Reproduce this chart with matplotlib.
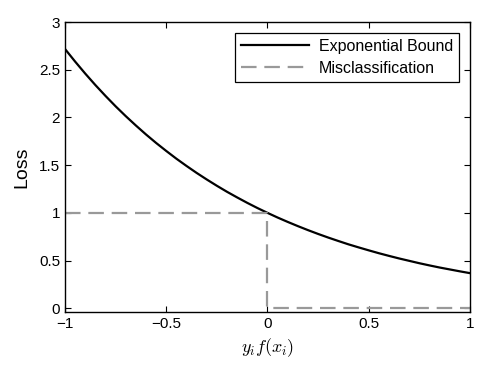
import matplotlib
matplotlib.use("Agg")
import matplotlib.pyplot as plt

plt.rcParams["font.family"] = ["Liberation Sans", "DejaVu Sans"]
plt.rcParams["mathtext.fontset"] = "cm"

# exponential bound
margin = [-1.0, -0.95, -0.9, -0.85, -0.8, -0.75, -0.7, -0.65, -0.6, -0.55,
          -0.5, -0.45, -0.4, -0.35, -0.3, -0.25, -0.2, -0.15, -0.1, -0.05,
          0.0, 0.05, 0.1, 0.15, 0.2, 0.25, 0.3, 0.35, 0.4, 0.45,
          0.5, 0.55, 0.6, 0.65, 0.7, 0.75, 0.8, 0.85, 0.9, 0.95, 1.0]
exp_loss = [2.718, 2.586, 2.460, 2.340, 2.226, 2.117, 2.014, 1.916, 1.822, 1.733,
            1.649, 1.568, 1.492, 1.419, 1.350, 1.284, 1.221, 1.162, 1.105, 1.051,
            1.000, 0.951, 0.905, 0.861, 0.819, 0.779, 0.741, 0.705, 0.670, 0.638,
            0.607, 0.577, 0.549, 0.522, 0.497, 0.472, 0.449, 0.427, 0.407, 0.387,
            0.368]

# misclassification (0/1) loss
mis_x = [-1, 0, 0, 1]
mis_y = [1, 1, 0, 0]

xticks = [-1, -0.5, 0, 0.5, 1]
xticklabels = ["\u22121", "\u22120.5", "0", "0.5", "1"]
yticks = [0, 0.5, 1, 1.5, 2, 2.5, 3]
yticklabels = ["0", "0.5", "1", "1.5", "2", "2.5", "3"]

fig = plt.figure(figsize=(4.85, 3.68), dpi=100)
ax = fig.add_axes([0.134, 0.152, 0.835, 0.788])

ax.plot(margin, exp_loss, color="black", linewidth=1.6, label="Exponential Bound")
ax.plot(mis_x, mis_y, color="#999999", linewidth=1.6, dashes=(7, 3.5),
        label="Misclassification")

ax.set_xlim(-1, 1)
ax.set_ylim(-0.04, 3)
ax.set_xticks(xticks)
ax.set_xticklabels(xticklabels)
ax.set_yticks(yticks)
ax.set_yticklabels(yticklabels)
ax.tick_params(direction="in", top=True, right=True, labelsize=11, length=4)
for s in ax.spines.values():
    s.set_linewidth(1.0)

ax.set_xlabel("$y_i f(x_i)$", fontsize=13, labelpad=4)
ax.set_ylabel("Loss", fontsize=14, labelpad=6)

leg = ax.legend(loc="upper right", fontsize=11.5, fancybox=False, framealpha=1,
                edgecolor="black", borderaxespad=0.7, handlelength=4.3,
                handletextpad=0.6, borderpad=0.35, labelspacing=0.45)
leg.get_frame().set_linewidth(0.9)

fig.savefig("out.png", dpi=100)
